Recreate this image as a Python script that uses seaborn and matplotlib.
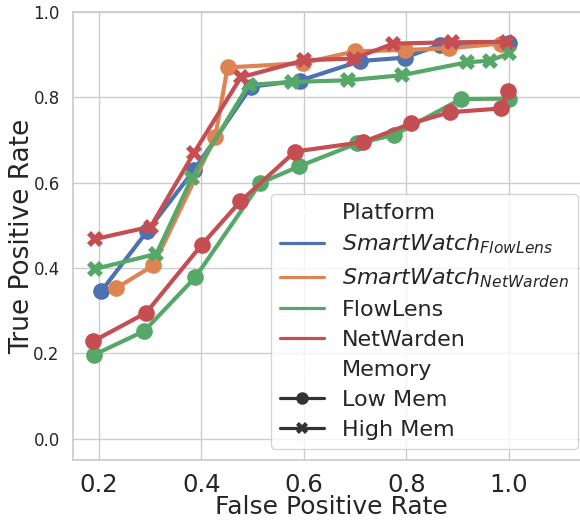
import matplotlib
matplotlib.use("Agg")
import matplotlib.pyplot as plt
import pandas as pd
import seaborn as sns

# ROC-style operating points per platform and memory configuration
sw_flowlens_fpr = [0.204, 0.294, 0.386, 0.497, 0.592, 0.710, 0.797, 0.866, 1.000]
sw_flowlens_tpr = [0.345, 0.486, 0.630, 0.825, 0.839, 0.885, 0.893, 0.923, 0.928]

sw_netwarden_fpr = [0.234, 0.306, 0.427, 0.451, 0.598, 0.700, 0.798, 0.883, 0.985]
sw_netwarden_tpr = [0.353, 0.406, 0.707, 0.870, 0.880, 0.908, 0.911, 0.915, 0.926]

flowlens_high_fpr = [0.193, 0.312, 0.381, 0.492, 0.577, 0.687, 0.792, 0.918, 0.964, 1.000]
flowlens_high_tpr = [0.398, 0.433, 0.610, 0.829, 0.836, 0.840, 0.852, 0.882, 0.886, 0.903]

flowlens_low_fpr = [0.191, 0.288, 0.388, 0.515, 0.590, 0.704, 0.777, 0.907, 1.000]
flowlens_low_tpr = [0.197, 0.252, 0.378, 0.599, 0.638, 0.692, 0.712, 0.796, 0.797]

netwarden_high_fpr = [0.193, 0.301, 0.385, 0.477, 0.601, 0.698, 0.775, 0.889, 0.997]
netwarden_high_tpr = [0.468, 0.497, 0.669, 0.847, 0.887, 0.891, 0.926, 0.929, 0.930]

netwarden_low_fpr = [0.188, 0.292, 0.401, 0.476, 0.583, 0.715, 0.810, 0.885, 0.986, 0.998]
netwarden_low_tpr = [0.228, 0.295, 0.455, 0.556, 0.673, 0.695, 0.739, 0.765, 0.774, 0.815]

platforms = [r"$SmartWatch_{FlowLens}$", r"$SmartWatch_{NetWarden}$", "FlowLens", "NetWarden"]
memories = ["Low Mem", "High Mem"]
x_ticks = [0.2, 0.4, 0.6, 0.8, 1.0]
y_ticks = [0.0, 0.2, 0.4, 0.6, 0.8, 1.0]

series = [
    (platforms[0], memories[0], sw_flowlens_fpr, sw_flowlens_tpr),
    (platforms[1], memories[0], sw_netwarden_fpr, sw_netwarden_tpr),
    (platforms[2], memories[1], flowlens_high_fpr, flowlens_high_tpr),
    (platforms[2], memories[0], flowlens_low_fpr, flowlens_low_tpr),
    (platforms[3], memories[1], netwarden_high_fpr, netwarden_high_tpr),
    (platforms[3], memories[0], netwarden_low_fpr, netwarden_low_tpr),
]
rows = []
for plat, mem, xs, ys in series:
    for xv, yv in zip(xs, ys):
        rows.append({"False Positive Rate": xv, "True Positive Rate": yv,
                     "Platform": plat, "Memory": mem})
df = pd.DataFrame(rows)

sns.set_theme(style="whitegrid")
plt.rcParams["font.family"] = ["DejaVu Sans"]

fig = plt.figure(figsize=(5.8, 5.21), dpi=100)
ax = fig.add_axes([72.9 / 580, 1 - 460 / 521, (589 - 72.9) / 580, (460 - 12) / 521])

sns.lineplot(
    data=df, x="False Positive Rate", y="True Positive Rate",
    hue="Platform", style="Memory",
    hue_order=platforms, style_order=memories,
    markers=["o", "X"], dashes=False,
    palette=sns.color_palette("deep", 4),
    linewidth=3, markersize=12, markeredgewidth=0,
    sort=True, estimator=None, ax=ax,
)

ax.set_xlim(0.149, 1.157)
ax.set_ylim(-0.05, 1.0)
ax.set_xticks(x_ticks)
ax.set_yticks(y_ticks)
ax.tick_params(axis="x", labelsize=17.5, pad=3)
ax.tick_params(axis="y", labelsize=12)
ax.set_xlabel("False Positive Rate", fontsize=18, labelpad=-1)
ax.set_ylabel("True Positive Rate", fontsize=19, labelpad=-1)

sns.move_legend(ax, "lower right", fontsize=16, frameon=True, labelspacing=0.45)
leg = ax.get_legend()
for h in leg.legend_handles:
    if h is not None and hasattr(h, "set_linewidth"):
        h.set_linewidth(2.3)
        if hasattr(h, "set_markersize"):
            h.set_markersize(9)

fig.savefig("out.png", dpi=100)
